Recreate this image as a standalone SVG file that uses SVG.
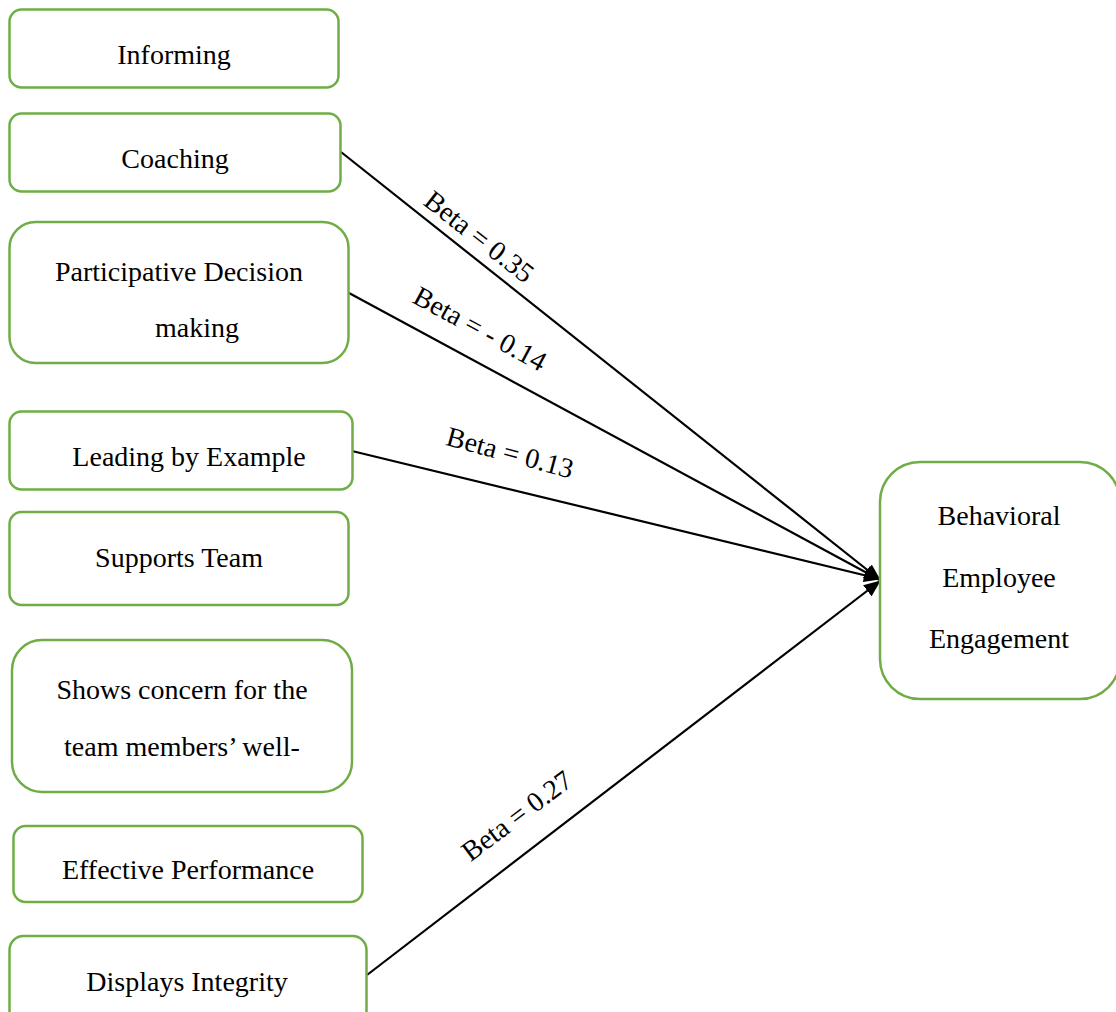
<svg xmlns="http://www.w3.org/2000/svg" width="1116" height="1012" viewBox="0 0 1116 1012">
<defs>
<marker id="arr" markerUnits="userSpaceOnUse" markerWidth="18" markerHeight="14" refX="16" refY="7" orient="auto">
<path d="M0,0 L17,7 L0,14 Z" fill="#000"/>
</marker>
<style>
.box{fill:#fff;stroke:#70AD47;stroke-width:2.5}
.t{font-family:"Liberation Serif","Times New Roman",serif;font-size:28px;fill:#000;text-anchor:middle}
.b{font-family:"Liberation Serif","Times New Roman",serif;font-size:28px;fill:#000;text-anchor:middle}
.c{stroke:#000;stroke-width:2.2;fill:none;marker-end:url(#arr)}
</style>
</defs>
<rect width="1116" height="1012" fill="#fff"/>
<g id="connectors">
<line class="c" x1="341" y1="152" x2="880" y2="580"/>
<line class="c" x1="349" y1="293" x2="880" y2="580"/>
<line class="c" x1="352" y1="451" x2="880" y2="579"/>
<line class="c" x1="367" y1="975" x2="880" y2="581"/>
<text class="b" transform="translate(479,237) rotate(38)" y="9">Beta = 0.35</text>
<text class="b" transform="translate(480,329) rotate(28.5)" y="9">Beta = - 0.14</text>
<text class="b" transform="translate(510,453) rotate(15)" y="9">Beta = 0.13</text>
<text class="b" transform="translate(517,816) rotate(-37)" y="9">Beta = 0.27</text>
</g>
<g id="informing">
<rect class="box" x="9.5" y="9.5" width="329" height="78" rx="12"/>
<text class="t" x="174" y="64">Informing</text>
</g>
<g id="coaching">
<rect class="box" x="9.5" y="113.5" width="331" height="78" rx="12"/>
<text class="t" x="175" y="168">Coaching</text>
</g>
<g id="participative">
<rect class="box" x="9.5" y="222" width="339" height="141" rx="26"/>
<text class="t" x="179" y="281">Participative Decision</text>
<text class="t" x="197" y="337">making</text>
</g>
<g id="leading">
<rect class="box" x="9.5" y="411.5" width="343" height="78" rx="12"/>
<text class="t" x="189" y="466">Leading by Example</text>
</g>
<g id="supports">
<rect class="box" x="9.5" y="512" width="339" height="93" rx="12"/>
<text class="t" x="179" y="567">Supports Team</text>
</g>
<g id="concern">
<rect class="box" x="12" y="640" width="340" height="152" rx="30"/>
<text class="t" x="182" y="699">Shows concern for the</text>
<text class="t" x="182" y="756">team members’ well-</text>
</g>
<g id="effective">
<rect class="box" x="13.5" y="826" width="349" height="76" rx="12"/>
<text class="t" x="188" y="879">Effective Performance</text>
</g>
<g id="integrity">
<rect class="box" x="9.5" y="936" width="357" height="90" rx="14"/>
<text class="t" x="187" y="991">Displays Integrity</text>
</g>
<g id="engagement">
<rect class="box" x="880" y="462" width="240" height="237" rx="40"/>
<text class="t" x="999" y="525">Behavioral</text>
<text class="t" x="999" y="587">Employee</text>
<text class="t" x="999" y="648">Engagement</text>
</g>
</svg>
